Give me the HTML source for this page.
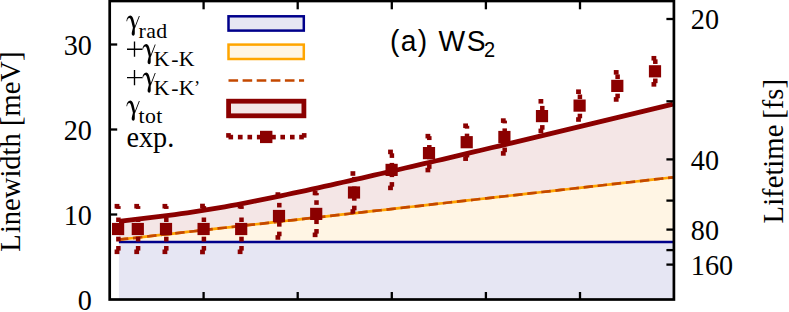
<!DOCTYPE html>
<html><head><meta charset="utf-8"><style>
html,body{margin:0;padding:0;background:#fff;}
svg{display:block;}
text{font-family:"Liberation Serif",serif;fill:#000;}
.s text{font-family:"Liberation Sans",sans-serif;}
</style></head><body>
<svg width="789" height="312" viewBox="0 0 789 312">
<rect width="789" height="312" fill="#fff"/>
<rect x="118.9" y="241.9" width="554.1" height="57.599999999999994" fill="#e6e6f3"/>
<path d="M118.90,239.66 L125.13,238.96 L131.35,238.26 L137.58,237.56 L143.80,236.85 L150.03,236.15 L156.26,235.45 L162.48,234.75 L168.71,234.05 L174.93,233.35 L181.16,232.65 L187.38,231.95 L193.61,231.25 L199.84,230.55 L206.06,229.85 L212.29,229.15 L218.51,228.45 L224.74,227.75 L230.97,227.05 L237.19,226.35 L243.42,225.65 L249.64,224.95 L255.87,224.25 L262.09,223.55 L268.32,222.85 L274.55,222.15 L280.77,221.45 L287.00,220.75 L293.22,220.04 L299.45,219.34 L305.68,218.64 L311.90,217.94 L318.13,217.24 L324.35,216.54 L330.58,215.84 L336.80,215.14 L343.03,214.44 L349.26,213.74 L355.48,213.04 L361.71,212.34 L367.93,211.64 L374.16,210.94 L380.39,210.24 L386.61,209.54 L392.84,208.84 L399.06,208.14 L405.29,207.44 L411.51,206.74 L417.74,206.04 L423.97,205.34 L430.19,204.64 L436.42,203.94 L442.64,203.24 L448.87,202.53 L455.10,201.83 L461.32,201.13 L467.55,200.43 L473.77,199.73 L480.00,199.03 L486.22,198.33 L492.45,197.63 L498.68,196.93 L504.90,196.23 L511.13,195.53 L517.35,194.83 L523.58,194.13 L529.81,193.43 L536.03,192.73 L542.26,192.03 L548.48,191.33 L554.71,190.63 L560.93,189.93 L567.16,189.23 L573.39,188.53 L579.61,187.83 L585.84,187.13 L592.06,186.43 L598.29,185.72 L604.52,185.02 L610.74,184.32 L616.97,183.62 L623.19,182.92 L629.42,182.22 L635.64,181.52 L641.87,180.82 L648.10,180.12 L654.32,179.42 L660.55,178.72 L666.77,178.02 L673.00,177.32 L673.0,241.9 L118.9,241.9Z" fill="#fff5e4"/>
<path d="M118.90,221.30 L125.13,220.64 L131.35,219.94 L137.58,219.21 L143.80,218.47 L150.03,217.72 L156.26,216.96 L162.48,216.18 L168.71,215.39 L174.93,214.57 L181.16,213.73 L187.38,212.85 L193.61,211.93 L199.84,210.98 L206.06,209.99 L212.29,208.96 L218.51,207.90 L224.74,206.80 L230.97,205.67 L237.19,204.52 L243.42,203.34 L249.64,202.14 L255.87,200.91 L262.09,199.67 L268.32,198.41 L274.55,197.13 L280.77,195.83 L287.00,194.52 L293.22,193.20 L299.45,191.87 L305.68,190.53 L311.90,189.17 L318.13,187.81 L324.35,186.44 L330.58,185.06 L336.80,183.67 L343.03,182.27 L349.26,180.87 L355.48,179.46 L361.71,178.05 L367.93,176.63 L374.16,175.21 L380.39,173.78 L386.61,172.35 L392.84,170.91 L399.06,169.47 L405.29,168.03 L411.51,166.58 L417.74,165.13 L423.97,163.68 L430.19,162.22 L436.42,160.76 L442.64,159.30 L448.87,157.84 L455.10,156.37 L461.32,154.90 L467.55,153.43 L473.77,151.96 L480.00,150.49 L486.22,149.01 L492.45,147.53 L498.68,146.05 L504.90,144.57 L511.13,143.09 L517.35,141.60 L523.58,140.12 L529.81,138.63 L536.03,137.14 L542.26,135.65 L548.48,134.16 L554.71,132.67 L560.93,131.18 L567.16,129.68 L573.39,128.19 L579.61,126.69 L585.84,125.20 L592.06,123.70 L598.29,122.20 L604.52,120.70 L610.74,119.20 L616.97,117.70 L623.19,116.20 L629.42,114.70 L635.64,113.19 L641.87,111.69 L648.10,110.18 L654.32,108.68 L660.55,107.17 L666.77,105.67 L673.00,104.16 L673.00,177.32 L666.77,178.02 L660.55,178.72 L654.32,179.42 L648.10,180.12 L641.87,180.82 L635.64,181.52 L629.42,182.22 L623.19,182.92 L616.97,183.62 L610.74,184.32 L604.52,185.02 L598.29,185.72 L592.06,186.43 L585.84,187.13 L579.61,187.83 L573.39,188.53 L567.16,189.23 L560.93,189.93 L554.71,190.63 L548.48,191.33 L542.26,192.03 L536.03,192.73 L529.81,193.43 L523.58,194.13 L517.35,194.83 L511.13,195.53 L504.90,196.23 L498.68,196.93 L492.45,197.63 L486.22,198.33 L480.00,199.03 L473.77,199.73 L467.55,200.43 L461.32,201.13 L455.10,201.83 L448.87,202.53 L442.64,203.24 L436.42,203.94 L430.19,204.64 L423.97,205.34 L417.74,206.04 L411.51,206.74 L405.29,207.44 L399.06,208.14 L392.84,208.84 L386.61,209.54 L380.39,210.24 L374.16,210.94 L367.93,211.64 L361.71,212.34 L355.48,213.04 L349.26,213.74 L343.03,214.44 L336.80,215.14 L330.58,215.84 L324.35,216.54 L318.13,217.24 L311.90,217.94 L305.68,218.64 L299.45,219.34 L293.22,220.04 L287.00,220.75 L280.77,221.45 L274.55,222.15 L268.32,222.85 L262.09,223.55 L255.87,224.25 L249.64,224.95 L243.42,225.65 L237.19,226.35 L230.97,227.05 L224.74,227.75 L218.51,228.45 L212.29,229.15 L206.06,229.85 L199.84,230.55 L193.61,231.25 L187.38,231.95 L181.16,232.65 L174.93,233.35 L168.71,234.05 L162.48,234.75 L156.26,235.45 L150.03,236.15 L143.80,236.85 L137.58,237.56 L131.35,238.26 L125.13,238.96 L118.90,239.66Z" fill="#f4e6e6"/>
<line x1="118.9" y1="241.9" x2="673.0" y2="241.9" stroke="#00008b" stroke-width="2.5"/>
<path d="M118.90,239.66 L125.13,238.96 L131.35,238.26 L137.58,237.56 L143.80,236.85 L150.03,236.15 L156.26,235.45 L162.48,234.75 L168.71,234.05 L174.93,233.35 L181.16,232.65 L187.38,231.95 L193.61,231.25 L199.84,230.55 L206.06,229.85 L212.29,229.15 L218.51,228.45 L224.74,227.75 L230.97,227.05 L237.19,226.35 L243.42,225.65 L249.64,224.95 L255.87,224.25 L262.09,223.55 L268.32,222.85 L274.55,222.15 L280.77,221.45 L287.00,220.75 L293.22,220.04 L299.45,219.34 L305.68,218.64 L311.90,217.94 L318.13,217.24 L324.35,216.54 L330.58,215.84 L336.80,215.14 L343.03,214.44 L349.26,213.74 L355.48,213.04 L361.71,212.34 L367.93,211.64 L374.16,210.94 L380.39,210.24 L386.61,209.54 L392.84,208.84 L399.06,208.14 L405.29,207.44 L411.51,206.74 L417.74,206.04 L423.97,205.34 L430.19,204.64 L436.42,203.94 L442.64,203.24 L448.87,202.53 L455.10,201.83 L461.32,201.13 L467.55,200.43 L473.77,199.73 L480.00,199.03 L486.22,198.33 L492.45,197.63 L498.68,196.93 L504.90,196.23 L511.13,195.53 L517.35,194.83 L523.58,194.13 L529.81,193.43 L536.03,192.73 L542.26,192.03 L548.48,191.33 L554.71,190.63 L560.93,189.93 L567.16,189.23 L573.39,188.53 L579.61,187.83 L585.84,187.13 L592.06,186.43 L598.29,185.72 L604.52,185.02 L610.74,184.32 L616.97,183.62 L623.19,182.92 L629.42,182.22 L635.64,181.52 L641.87,180.82 L648.10,180.12 L654.32,179.42 L660.55,178.72 L666.77,178.02 L673.00,177.32" fill="none" stroke="#ffa500" stroke-width="2.7"/>
<path d="M118.90,239.66 L125.13,238.96 L131.35,238.26 L137.58,237.56 L143.80,236.85 L150.03,236.15 L156.26,235.45 L162.48,234.75 L168.71,234.05 L174.93,233.35 L181.16,232.65 L187.38,231.95 L193.61,231.25 L199.84,230.55 L206.06,229.85 L212.29,229.15 L218.51,228.45 L224.74,227.75 L230.97,227.05 L237.19,226.35 L243.42,225.65 L249.64,224.95 L255.87,224.25 L262.09,223.55 L268.32,222.85 L274.55,222.15 L280.77,221.45 L287.00,220.75 L293.22,220.04 L299.45,219.34 L305.68,218.64 L311.90,217.94 L318.13,217.24 L324.35,216.54 L330.58,215.84 L336.80,215.14 L343.03,214.44 L349.26,213.74 L355.48,213.04 L361.71,212.34 L367.93,211.64 L374.16,210.94 L380.39,210.24 L386.61,209.54 L392.84,208.84 L399.06,208.14 L405.29,207.44 L411.51,206.74 L417.74,206.04 L423.97,205.34 L430.19,204.64 L436.42,203.94 L442.64,203.24 L448.87,202.53 L455.10,201.83 L461.32,201.13 L467.55,200.43 L473.77,199.73 L480.00,199.03 L486.22,198.33 L492.45,197.63 L498.68,196.93 L504.90,196.23 L511.13,195.53 L517.35,194.83 L523.58,194.13 L529.81,193.43 L536.03,192.73 L542.26,192.03 L548.48,191.33 L554.71,190.63 L560.93,189.93 L567.16,189.23 L573.39,188.53 L579.61,187.83 L585.84,187.13 L592.06,186.43 L598.29,185.72 L604.52,185.02 L610.74,184.32 L616.97,183.62 L623.19,182.92 L629.42,182.22 L635.64,181.52 L641.87,180.82 L648.10,180.12 L654.32,179.42 L660.55,178.72 L666.77,178.02 L673.00,177.32" fill="none" stroke="#c44800" stroke-width="2.7" stroke-dasharray="9.45 4.72"/>
<path d="M118.90,221.30 L125.13,220.64 L131.35,219.94 L137.58,219.21 L143.80,218.47 L150.03,217.72 L156.26,216.96 L162.48,216.18 L168.71,215.39 L174.93,214.57 L181.16,213.73 L187.38,212.85 L193.61,211.93 L199.84,210.98 L206.06,209.99 L212.29,208.96 L218.51,207.90 L224.74,206.80 L230.97,205.67 L237.19,204.52 L243.42,203.34 L249.64,202.14 L255.87,200.91 L262.09,199.67 L268.32,198.41 L274.55,197.13 L280.77,195.83 L287.00,194.52 L293.22,193.20 L299.45,191.87 L305.68,190.53 L311.90,189.17 L318.13,187.81 L324.35,186.44 L330.58,185.06 L336.80,183.67 L343.03,182.27 L349.26,180.87 L355.48,179.46 L361.71,178.05 L367.93,176.63 L374.16,175.21 L380.39,173.78 L386.61,172.35 L392.84,170.91 L399.06,169.47 L405.29,168.03 L411.51,166.58 L417.74,165.13 L423.97,163.68 L430.19,162.22 L436.42,160.76 L442.64,159.30 L448.87,157.84 L455.10,156.37 L461.32,154.90 L467.55,153.43 L473.77,151.96 L480.00,150.49 L486.22,149.01 L492.45,147.53 L498.68,146.05 L504.90,144.57 L511.13,143.09 L517.35,141.60 L523.58,140.12 L529.81,138.63 L536.03,137.14 L542.26,135.65 L548.48,134.16 L554.71,132.67 L560.93,131.18 L567.16,129.68 L573.39,128.19 L579.61,126.69 L585.84,125.20 L592.06,123.70 L598.29,122.20 L604.52,120.70 L610.74,119.20 L616.97,117.70 L623.19,116.20 L629.42,114.70 L635.64,113.19 L641.87,111.69 L648.10,110.18 L654.32,108.68 L660.55,107.17 L666.77,105.67 L673.00,104.16" fill="none" stroke="#8b0000" stroke-width="4.8"/>
<g fill="#8b0000"><rect x="114.60" y="203.90" width="4.8" height="4.6"/><rect x="114.60" y="249.50" width="4.8" height="4.6"/><rect x="116.15" y="246.00" width="4.5" height="4.60"/><rect x="116.15" y="236.70" width="4.5" height="4.80"/><rect x="116.15" y="227.00" width="4.5" height="4.50"/><rect x="116.15" y="217.50" width="4.5" height="4.50"/><rect x="116.15" y="206.10" width="4.5" height="2.80"/><rect x="134.30" y="203.90" width="4.8" height="4.6"/><rect x="134.30" y="249.50" width="4.8" height="4.6"/><rect x="135.85" y="246.00" width="4.5" height="4.60"/><rect x="135.85" y="236.70" width="4.5" height="4.80"/><rect x="135.85" y="227.00" width="4.5" height="4.50"/><rect x="135.85" y="217.50" width="4.5" height="4.50"/><rect x="135.85" y="206.10" width="4.5" height="2.80"/><rect x="162.50" y="203.90" width="4.8" height="4.6"/><rect x="162.50" y="249.50" width="4.8" height="4.6"/><rect x="164.05" y="246.00" width="4.5" height="4.60"/><rect x="164.05" y="236.70" width="4.5" height="4.80"/><rect x="164.05" y="227.00" width="4.5" height="4.50"/><rect x="164.05" y="217.50" width="4.5" height="4.50"/><rect x="164.05" y="206.10" width="4.5" height="2.80"/><rect x="200.10" y="203.70" width="4.8" height="4.6"/><rect x="200.10" y="249.70" width="4.8" height="4.6"/><rect x="201.65" y="246.00" width="4.5" height="4.60"/><rect x="201.65" y="236.70" width="4.5" height="4.80"/><rect x="201.65" y="227.00" width="4.5" height="4.50"/><rect x="201.65" y="217.50" width="4.5" height="4.50"/><rect x="201.65" y="206.10" width="4.5" height="2.80"/><rect x="237.70" y="203.90" width="4.8" height="4.6"/><rect x="237.70" y="249.50" width="4.8" height="4.6"/><rect x="239.25" y="246.00" width="4.5" height="4.60"/><rect x="239.25" y="236.70" width="4.5" height="4.80"/><rect x="239.25" y="227.00" width="4.5" height="4.50"/><rect x="239.25" y="217.50" width="4.5" height="4.50"/><rect x="239.25" y="206.10" width="4.5" height="2.80"/><rect x="275.50" y="192.25" width="4.8" height="4.6"/><rect x="275.50" y="235.15" width="4.8" height="4.6"/><rect x="277.05" y="231.65" width="4.5" height="4.60"/><rect x="277.05" y="222.05" width="4.5" height="4.60"/><rect x="277.05" y="212.45" width="4.5" height="4.60"/><rect x="277.05" y="202.85" width="4.5" height="4.60"/><rect x="277.05" y="194.55" width="4.5" height="3.30"/><rect x="312.70" y="190.65" width="4.8" height="4.6"/><rect x="312.70" y="232.55" width="4.8" height="4.6"/><rect x="314.25" y="229.05" width="4.5" height="4.60"/><rect x="314.25" y="219.45" width="4.5" height="4.60"/><rect x="314.25" y="209.85" width="4.5" height="4.60"/><rect x="314.25" y="200.25" width="4.5" height="4.60"/><rect x="314.25" y="192.95" width="4.5" height="2.30"/><rect x="350.50" y="171.20" width="4.8" height="4.6"/><rect x="350.50" y="209.20" width="4.8" height="4.6"/><rect x="352.05" y="205.70" width="4.5" height="4.60"/><rect x="352.05" y="196.10" width="4.5" height="4.60"/><rect x="352.05" y="186.50" width="4.5" height="4.60"/><rect x="352.05" y="176.90" width="4.5" height="4.60"/><rect x="388.10" y="149.60" width="4.8" height="4.6"/><rect x="388.10" y="185.60" width="4.8" height="4.6"/><rect x="389.65" y="182.10" width="4.5" height="4.60"/><rect x="389.65" y="172.50" width="4.5" height="4.60"/><rect x="389.65" y="162.90" width="4.5" height="4.60"/><rect x="389.65" y="153.30" width="4.5" height="4.60"/><rect x="425.50" y="133.85" width="4.8" height="4.6"/><rect x="425.50" y="167.75" width="4.8" height="4.6"/><rect x="427.05" y="164.25" width="4.5" height="4.60"/><rect x="427.05" y="154.65" width="4.5" height="4.60"/><rect x="427.05" y="145.05" width="4.5" height="4.60"/><rect x="427.05" y="136.15" width="4.5" height="3.90"/><rect x="463.20" y="123.45" width="4.8" height="4.6"/><rect x="463.20" y="156.35" width="4.8" height="4.6"/><rect x="464.75" y="152.85" width="4.5" height="4.60"/><rect x="464.75" y="143.25" width="4.5" height="4.60"/><rect x="464.75" y="133.65" width="4.5" height="4.60"/><rect x="464.75" y="125.75" width="4.5" height="2.90"/><rect x="500.90" y="118.30" width="4.8" height="4.6"/><rect x="500.90" y="151.10" width="4.8" height="4.6"/><rect x="502.45" y="147.60" width="4.5" height="4.60"/><rect x="502.45" y="138.00" width="4.5" height="4.60"/><rect x="502.45" y="128.40" width="4.5" height="4.60"/><rect x="502.45" y="120.60" width="4.5" height="2.80"/><rect x="538.50" y="99.00" width="4.8" height="4.6"/><rect x="538.50" y="128.60" width="4.8" height="4.6"/><rect x="540.05" y="125.10" width="4.5" height="4.60"/><rect x="540.05" y="115.50" width="4.5" height="4.60"/><rect x="540.05" y="105.90" width="4.5" height="4.60"/><rect x="576.10" y="89.40" width="4.8" height="4.6"/><rect x="576.10" y="117.20" width="4.8" height="4.6"/><rect x="577.65" y="113.70" width="4.5" height="4.60"/><rect x="577.65" y="104.10" width="4.5" height="4.60"/><rect x="577.65" y="94.50" width="4.5" height="4.60"/><rect x="613.80" y="70.05" width="4.8" height="4.6"/><rect x="613.80" y="97.15" width="4.8" height="4.6"/><rect x="615.35" y="93.65" width="4.5" height="4.60"/><rect x="615.35" y="84.05" width="4.5" height="4.60"/><rect x="615.35" y="74.45" width="4.5" height="4.60"/><rect x="651.50" y="55.95" width="4.8" height="4.6"/><rect x="651.50" y="82.05" width="4.8" height="4.6"/><rect x="653.05" y="78.55" width="4.5" height="4.60"/><rect x="653.05" y="68.95" width="4.5" height="4.60"/><rect x="653.05" y="59.35" width="4.5" height="4.60"/></g>
<g fill="#8b0000"><rect x="112.00" y="222.90" width="12.2" height="12.2"/><rect x="131.70" y="222.90" width="12.2" height="12.2"/><rect x="159.90" y="222.90" width="12.2" height="12.2"/><rect x="197.50" y="222.90" width="12.2" height="12.2"/><rect x="235.10" y="222.90" width="12.2" height="12.2"/><rect x="272.90" y="209.90" width="12.2" height="12.2"/><rect x="310.10" y="207.80" width="12.2" height="12.2"/><rect x="347.90" y="186.40" width="12.2" height="12.2"/><rect x="385.50" y="163.80" width="12.2" height="12.2"/><rect x="422.90" y="147.00" width="12.2" height="12.2"/><rect x="460.60" y="136.10" width="12.2" height="12.2"/><rect x="498.30" y="130.90" width="12.2" height="12.2"/><rect x="535.90" y="110.00" width="12.2" height="12.2"/><rect x="573.50" y="99.50" width="12.2" height="12.2"/><rect x="611.20" y="79.80" width="12.2" height="12.2"/><rect x="648.90" y="65.20" width="12.2" height="12.2"/></g>
<!-- legend -->
<rect x="228.5" y="16.3" width="75.3" height="14.3" fill="#e6e6f3" stroke="#00008b" stroke-width="2.5"/>
<rect x="228.5" y="44.6" width="75.3" height="14.4" fill="#fff5e4" stroke="#ffa500" stroke-width="2.5"/>
<line x1="228.5" y1="80.4" x2="304.1" y2="80.4" stroke="#c44800" stroke-width="2.5" stroke-dasharray="9.6 4.5"/>
<rect x="228.6" y="101.2" width="75.3" height="14.6" fill="#f4e6e6" stroke="#8b0000" stroke-width="4.8"/>
<g fill="#8b0000">
<rect x="226.15" y="133.1" width="4.65" height="4.6"/><rect x="228.5" y="134.8" width="4.6" height="4.6"/>
<rect x="237.9" y="134.8" width="4.7" height="4.6"/><rect x="247.5" y="134.8" width="4.6" height="4.6"/><rect x="256.9" y="134.8" width="4.6" height="4.6"/>
<rect x="260" y="130.8" width="12.4" height="12.3"/>
<rect x="271.2" y="134.8" width="4.6" height="4.6"/><rect x="280.4" y="134.8" width="4.6" height="4.6"/><rect x="290" y="134.8" width="4.6" height="4.6"/>
<rect x="299.2" y="134.8" width="4.6" height="4.6"/><rect x="301.9" y="133.1" width="4.6" height="4.6"/>
</g>
<!-- frame -->
<g stroke="#000" stroke-width="2.3"><line x1="203.6" y1="299.5" x2="203.6" y2="292.0"/><line x1="203.6" y1="1.0" x2="203.6" y2="9.3"/><line x1="297.7" y1="299.5" x2="297.7" y2="292.0"/><line x1="297.7" y1="1.0" x2="297.7" y2="9.3"/><line x1="391.8" y1="299.5" x2="391.8" y2="292.0"/><line x1="391.8" y1="1.0" x2="391.8" y2="9.3"/><line x1="485.9" y1="299.5" x2="485.9" y2="292.0"/><line x1="485.9" y1="1.0" x2="485.9" y2="9.3"/><line x1="580" y1="299.5" x2="580" y2="292.0"/><line x1="580" y1="1.0" x2="580" y2="9.3"/><line x1="109.7" y1="214.5" x2="117.2" y2="214.5"/><line x1="109.7" y1="129.5" x2="117.2" y2="129.5"/><line x1="109.7" y1="44.5" x2="117.2" y2="44.5"/><line x1="673.9" y1="19.0" x2="666.4" y2="19.0"/><line x1="673.9" y1="101.3" x2="666.4" y2="101.3"/><line x1="673.9" y1="159.4" x2="666.4" y2="159.4"/><line x1="673.9" y1="200.6" x2="666.4" y2="200.6"/><line x1="673.9" y1="229.6" x2="666.4" y2="229.6"/><line x1="673.9" y1="250.1" x2="666.4" y2="250.1"/><line x1="673.9" y1="264.6" x2="666.4" y2="264.6"/></g>
<rect x="109.7" y="1.0" width="564.1999999999999" height="298.5" fill="none" stroke="#000" stroke-width="2.7"/>
<!-- labels -->
<g font-size="28">
<text transform="translate(91.9,54.7) scale(1,1.05)" text-anchor="end" font-size="28.2">30</text><text transform="translate(91.9,139.7) scale(1,1.05)" text-anchor="end" font-size="28.2">20</text><text transform="translate(91.9,224.7) scale(1,1.05)" text-anchor="end" font-size="28.2">10</text><text transform="translate(91.9,309.7) scale(1,1.05)" text-anchor="end" font-size="28.2">0</text><text transform="translate(690.8,29.0) scale(1,1.05)" text-anchor="start" font-size="28.2">20</text><text transform="translate(690.8,169.5) scale(1,1.05)" text-anchor="start" font-size="28.2">40</text><text transform="translate(690.8,239.7) scale(1,1.05)" text-anchor="start" font-size="28.2">80</text><text transform="translate(690.8,274.7) scale(1,1.05)" text-anchor="start" font-size="28.2">160</text>
<text transform="translate(19.9,150.5) rotate(-90)" text-anchor="middle" font-size="28.55" dx="-1.1 1.1">Linewidth [meV]</text>
<text transform="translate(783,151.15) rotate(-90)" text-anchor="middle" font-size="28.7">Lifetime <tspan dx="-1.3">[</tspan>fs]</text>
<path transform="translate(126.4,29.2)" d="M0,-8 C0.4,-11.6 1.9,-13.7 4,-13.7 C5.8,-13.7 6.7,-11.5 7.3,-9 L8.6,-3.2 L12.5,-13.3 L13.4,-13.3 L8.4,-0.5 C8.4,1 8.4,2.5 8.4,4 C8.4,5.6 7.8,6.5 6.9,6.5 C5.9,6.5 5.3,5.6 5.3,4.3 C5.3,2.8 6.2,0.5 6.5,-1.5 L5.0,-7.5 C4.4,-10 3.9,-11.2 3,-11.2 C1.9,-11.2 1,-10 0.7,-8 Z" fill="#000"/><text x="138.6" y="38.0" font-size="21.8" letter-spacing="0.4">rad</text><path d="M127,49.2 H142.1 M134.5,41.6 V56.800000000000004" stroke="#000" stroke-width="1.35" fill="none"/><path transform="translate(142.3,57.75)" d="M0,-8 C0.4,-11.6 1.9,-13.7 4,-13.7 C5.8,-13.7 6.7,-11.5 7.3,-9 L8.6,-3.2 L12.5,-13.3 L13.4,-13.3 L8.4,-0.5 C8.4,1 8.4,2.5 8.4,4 C8.4,5.6 7.8,6.5 6.9,6.5 C5.9,6.5 5.3,5.6 5.3,4.3 C5.3,2.8 6.2,0.5 6.5,-1.5 L5.0,-7.5 C4.4,-10 3.9,-11.2 3,-11.2 C1.9,-11.2 1,-10 0.7,-8 Z" fill="#000"/><text x="153.2" y="66.2" font-size="21.8" dx="0.5 1.9 0.2 -0.6">K-K</text><path d="M127,77.65 H142.1 M134.5,70.05000000000001 V85.25" stroke="#000" stroke-width="1.35" fill="none"/><path transform="translate(142.3,86.2)" d="M0,-8 C0.4,-11.6 1.9,-13.7 4,-13.7 C5.8,-13.7 6.7,-11.5 7.3,-9 L8.6,-3.2 L12.5,-13.3 L13.4,-13.3 L8.4,-0.5 C8.4,1 8.4,2.5 8.4,4 C8.4,5.6 7.8,6.5 6.9,6.5 C5.9,6.5 5.3,5.6 5.3,4.3 C5.3,2.8 6.2,0.5 6.5,-1.5 L5.0,-7.5 C4.4,-10 3.9,-11.2 3,-11.2 C1.9,-11.2 1,-10 0.7,-8 Z" fill="#000"/><text x="153.2" y="94.9" font-size="21.8" dx="0.5 1.9 0.2 -0.6">K-K<tspan font-size="18.5" dy="-1.2">’</tspan></text><path transform="translate(126.4,114.2)" d="M0,-8 C0.4,-11.6 1.9,-13.7 4,-13.7 C5.8,-13.7 6.7,-11.5 7.3,-9 L8.6,-3.2 L12.5,-13.3 L13.4,-13.3 L8.4,-0.5 C8.4,1 8.4,2.5 8.4,4 C8.4,5.6 7.8,6.5 6.9,6.5 C5.9,6.5 5.3,5.6 5.3,4.3 C5.3,2.8 6.2,0.5 6.5,-1.5 L5.0,-7.5 C4.4,-10 3.9,-11.2 3,-11.2 C1.9,-11.2 1,-10 0.7,-8 Z" fill="#000"/><text x="138.6" y="122.9" font-size="21.8" letter-spacing="0.4">tot</text><text transform="translate(126.5,147.2) scale(1,1.05)" font-size="28.2">exp.</text>
</g>
<g class="s" font-size="28.2"><text transform="translate(390,50.8) scale(1,1.065)" letter-spacing="1.3">(a)</text><text transform="translate(438.6,50.8) scale(1,1.065)">W</text><text transform="translate(466.8,50.8) scale(1,1.065)">S</text><text transform="translate(484.0,56.6) scale(1,1.1)" font-size="20">2</text></g>
</svg>
</body></html>
